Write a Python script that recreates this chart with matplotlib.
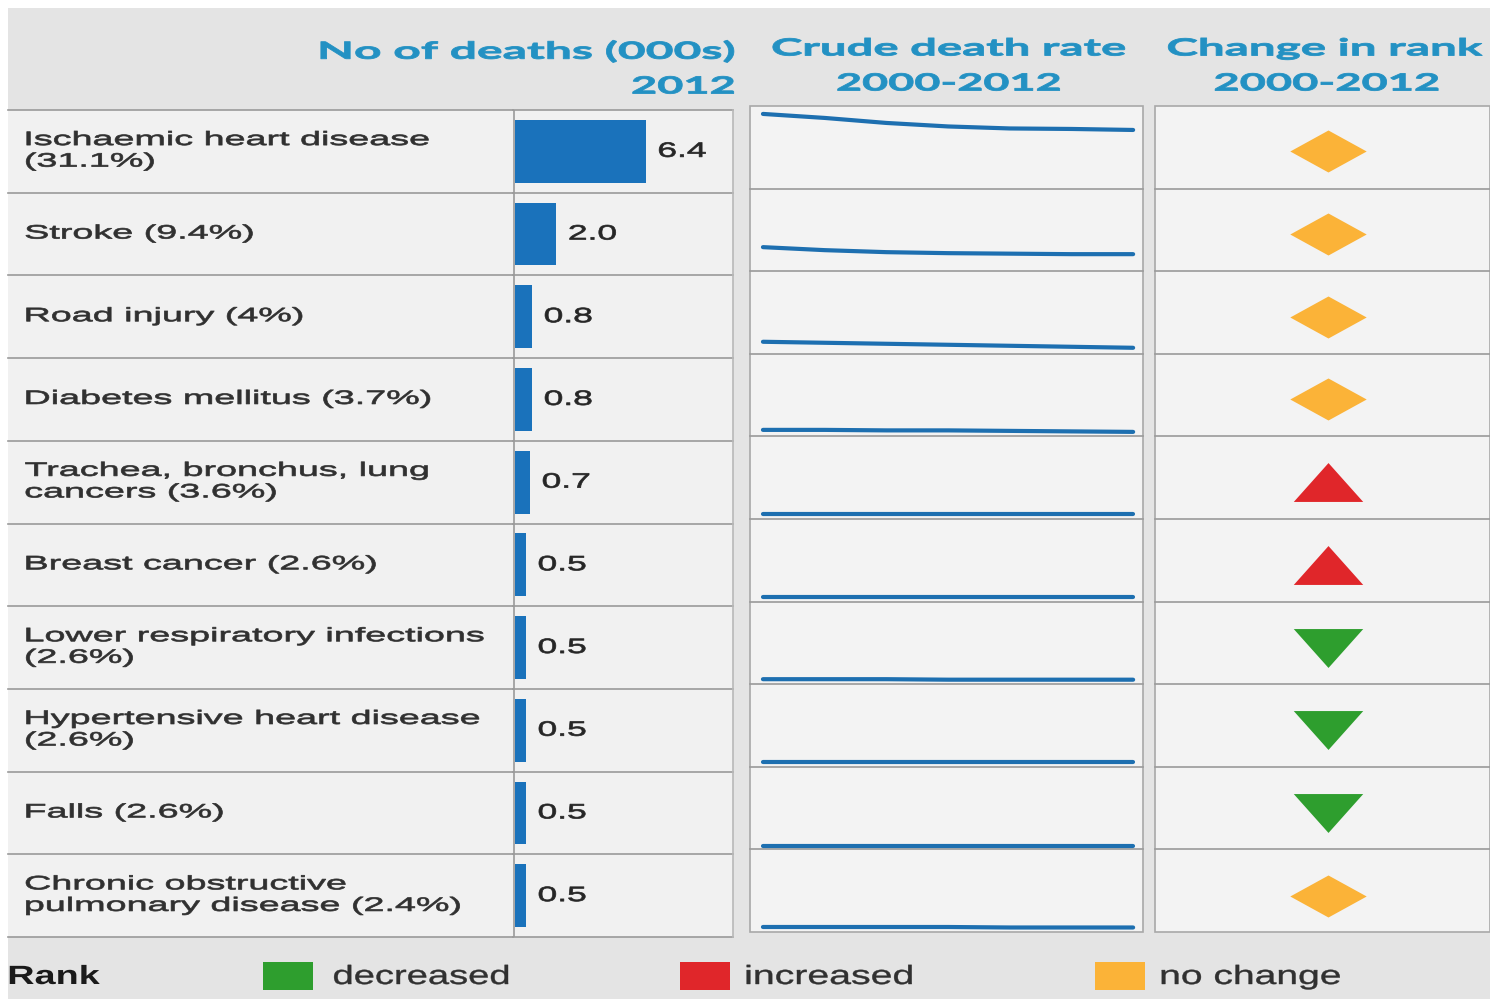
import matplotlib
matplotlib.use("Agg")
import matplotlib.pyplot as plt
import matplotlib.patheffects as pe
from matplotlib.transforms import Affine2D
from matplotlib.patches import Rectangle

W, H = 1490, 999

# ---- data ----
causes = [
    "Ischaemic heart disease\n(31.1%)",
    "Stroke (9.4%)",
    "Road injury (4%)",
    "Diabetes mellitus (3.7%)",
    "Trachea, bronchus, lung\ncancers (3.6%)",
    "Breast cancer (2.6%)",
    "Lower respiratory infections\n(2.6%)",
    "Hypertensive heart disease\n(2.6%)",
    "Falls (2.6%)",
    "Chronic obstructive\npulmonary disease (2.4%)",
]
deaths_2012 = [6.4, 2.0, 0.8, 0.8, 0.7, 0.5, 0.5, 0.5, 0.5, 0.5]

years = [2000, 2002, 2004, 2006, 2008, 2010, 2012]
rate_ihd = [145, 137, 127, 120, 116, 115, 113]
rate_stroke = [44, 38, 34, 32, 31, 30, 30]
rate_road = [20, 18, 16, 14, 12, 10, 8]
rate_diabetes = [9, 9, 8, 8, 7, 6, 5]
rate_lung = [6, 6, 6, 6, 6, 6, 6]
rate_breast = [5, 5, 5, 5, 5, 5, 5]
rate_lri = [6, 6, 6, 5, 5, 5, 5]
rate_hhd = [5, 5, 5, 5, 5, 5, 5]
rate_falls = [3, 3, 3, 3, 3, 3, 3]
rate_copd = [6, 6, 6, 6, 5, 5, 5]
crude_rates = [rate_ihd, rate_stroke, rate_road, rate_diabetes, rate_lung,
               rate_breast, rate_lri, rate_hhd, rate_falls, rate_copd]

rank_change = ["no change", "no change", "no change", "no change", "increased",
               "increased", "decreased", "decreased", "decreased", "no change"]
legend_labels = ["decreased", "increased", "no change"]

# ---- styling ----
HEAD_COL = "#2391c3"
TEXT_COL = "#303030"
BAR_COL = "#1a72bb"
LINE_COL = "#1d6fb0"
RANK_COL = {"decreased": "#2e9e2e", "increased": "#e0262a", "no change": "#fbb338"}
RANK_MARK = {
    "no change": [(-1, 0), (0, 0.55), (1, 0), (0, -0.55)],
    "increased": [(-1, -0.56), (1, -0.56), (0, 0.56)],
    "decreased": [(-1, 0.56), (1, 0.56), (0, -0.56)],
}


class Stretch(pe.AbstractPathEffect):
    """Draw text wider than the font, like the stretched screenshot."""

    def __init__(self, sx=1.0, width=None, anchor="left", lw=0.0):
        super().__init__()
        self.sx, self.width, self.anchor, self.lw = sx, width, anchor, lw

    def draw_path(self, renderer, gc, tpath, affine, rgbFace=None):
        ext = tpath.get_extents()
        sx = self.sx
        if self.width is not None:
            sx = self.width / (ext.width * affine.get_matrix()[0, 0])
        cx = {"left": ext.x0, "center": (ext.x0 + ext.x1) / 2, "right": ext.x1}[self.anchor]
        st = Affine2D().translate(-cx, 0).scale(sx, 1).translate(cx, 0)
        gc0 = renderer.new_gc()
        gc0.copy_properties(gc)
        gc0.set_linewidth(self.lw)
        gc0.set_foreground(rgbFace)
        renderer.draw_path(gc0, tpath, st + affine, rgbFace)
        gc0.restore()


def box(x0, y0, x1, y1):
    return [x0 / W, 1 - y1 / H, (x1 - x0) / W, (y1 - y0) / H]


fig = plt.figure(figsize=(W / 100, H / 100), dpi=100)
fig.patch.set_facecolor("white")

# background / grid layer in pixel coords
bg = fig.add_axes([0, 0, 1, 1], zorder=0)
bg.set_xlim(0, W)
bg.set_ylim(H, 0)
bg.axis("off")
bg.add_patch(Rectangle((8, 8), W - 8, H - 8, color="#e4e4e4", lw=0))

n = len(causes)
L_TOP, L_BOT = 110, 937     # label + bar columns
R_TOP, R_BOT = 106, 932     # line + rank columns
lh = (L_BOT - L_TOP) / n
rh = (R_BOT - R_TOP) / n

for x0, x1 in [(8, 513), (513, 733)]:
    bg.add_patch(Rectangle((x0, L_TOP), x1 - x0, L_BOT - L_TOP, color="#f1f1f1", lw=0))
    for i in range(n + 1):
        y = L_TOP + i * lh
        bg.plot([x0, x1], [y, y], color="#9a9a9a", lw=1.2)
for x0, x1 in [(750, 1143), (1155, 1490)]:
    bg.add_patch(Rectangle((x0, R_TOP), x1 - x0, R_BOT - R_TOP, facecolor="#f3f3f3",
                           edgecolor="#a8a8a8", lw=1.2))
    for i in range(1, n):
        y = R_TOP + i * rh
        bg.plot([x0, x1], [y, y], color="#9a9a9a", lw=1.2)
bg.plot([733, 733], [L_TOP, L_BOT], color="#b8b8b8", lw=1.2)

# ---- headers ----
hkw = dict(color=HEAD_COL, fontsize=17, fontweight="bold", family="Lato", va="center")
bg.text(735, 51, "No of deaths (000s)", ha="right",
        path_effects=[Stretch(width=413, anchor="right", lw=0.6)], **hkw)
bg.text(735, 86, "2012", ha="right", path_effects=[Stretch(width=101, anchor="right", lw=0.6)], **hkw)
bg.text(949, 48, "Crude death rate", ha="center",
        path_effects=[Stretch(width=352, anchor="center", lw=0.6)], **hkw)
bg.text(949, 83, "2000-2012", ha="center",
        path_effects=[Stretch(width=222, anchor="center", lw=0.6)], **hkw)
bg.text(1325, 48, "Change in rank", ha="center",
        path_effects=[Stretch(width=314, anchor="center", lw=0.6)], **hkw)
bg.text(1327, 83, "2000-2012", ha="center",
        path_effects=[Stretch(width=223, anchor="center", lw=0.6)], **hkw)

# ---- cause labels ----
for i, lab in enumerate(causes):
    bg.text(25, L_TOP + (i + 0.5) * lh, lab, ha="left", va="center", fontsize=14,
            family="Liberation Sans", color=TEXT_COL, linespacing=1.35,
            path_effects=[Stretch(sx=1.94, anchor="left", lw=0.5)])

# ---- deaths bars ----
ax_bar = fig.add_axes(box(513, L_TOP, 733, L_BOT), zorder=2)
ax_bar.patch.set_alpha(0)
rows = list(range(n))
ax_bar.barh(rows, deaths_2012, height=0.76, color=BAR_COL, left=0)
ax_bar.set_xlim(-0.12, 10.7)
ax_bar.set_ylim(n - 0.5, -0.5)
for r, v in zip(rows, deaths_2012):
    ax_bar.annotate(f"{v:.1f}", (v, r), xytext=(9, 0), textcoords="offset points",
                    ha="left", va="center", fontsize=15, family="Liberation Sans",
                    color="#262626", path_effects=[Stretch(sx=1.7, anchor="left", lw=0.5)])
for s in ax_bar.spines.values():
    s.set_visible(False)
ax_bar.axvline(-0.05, color="#9a9a9a", lw=1.2)
ax_bar.set_xticks([])
ax_bar.set_yticks([])

# ---- crude death rate sparklines ----
for i, rate in enumerate(crude_rates):
    ax = fig.add_axes(box(750, R_TOP + i * rh, 1143, R_TOP + (i + 1) * rh), zorder=2)
    ax.patch.set_alpha(0)
    ax.plot(years, rate, color=LINE_COL, lw=3.0, solid_capstyle="round")
    ax.set_xlim(1999.58, 2012.32)
    ax.set_ylim(-4, 160.8)
    ax.axis("off")

# ---- change in rank markers ----
ax_rank = fig.add_axes(box(1155, L_TOP, 1490, L_BOT), zorder=2)
ax_rank.patch.set_alpha(0)
for r, ch in zip(rows, rank_change):
    ax_rank.plot(0, r, marker=RANK_MARK[ch], markersize=55 if ch == "no change" else 50,
                 color=RANK_COL[ch], markeredgewidth=0, linestyle="none")
ax_rank.set_xlim(-0.516, 0.484)
ax_rank.set_ylim(n - 0.5, -0.5)
ax_rank.axis("off")

# ---- legend ----
lkw = dict(fontsize=19, family="Liberation Sans", va="center")
bg.text(8, 977, "Rank", ha="left", fontweight="bold", color="#1a1a1a",
        path_effects=[Stretch(width=90, anchor="left")], **lkw)
sq_x = [263, 680, 1095]
txt_x = [333, 745, 1160]
txt_w = [174, 165, 178]
for lab, sx0, tx0, tw in zip(legend_labels, sq_x, txt_x, txt_w):
    bg.add_patch(Rectangle((sx0, 962), 50, 28, color=RANK_COL[lab], lw=0))
    bg.text(tx0, 977, lab, ha="left", color=TEXT_COL,
            path_effects=[Stretch(width=tw, anchor="left", lw=0.3)], **lkw)

fig.savefig("out.png", dpi=100, facecolor=fig.get_facecolor())
